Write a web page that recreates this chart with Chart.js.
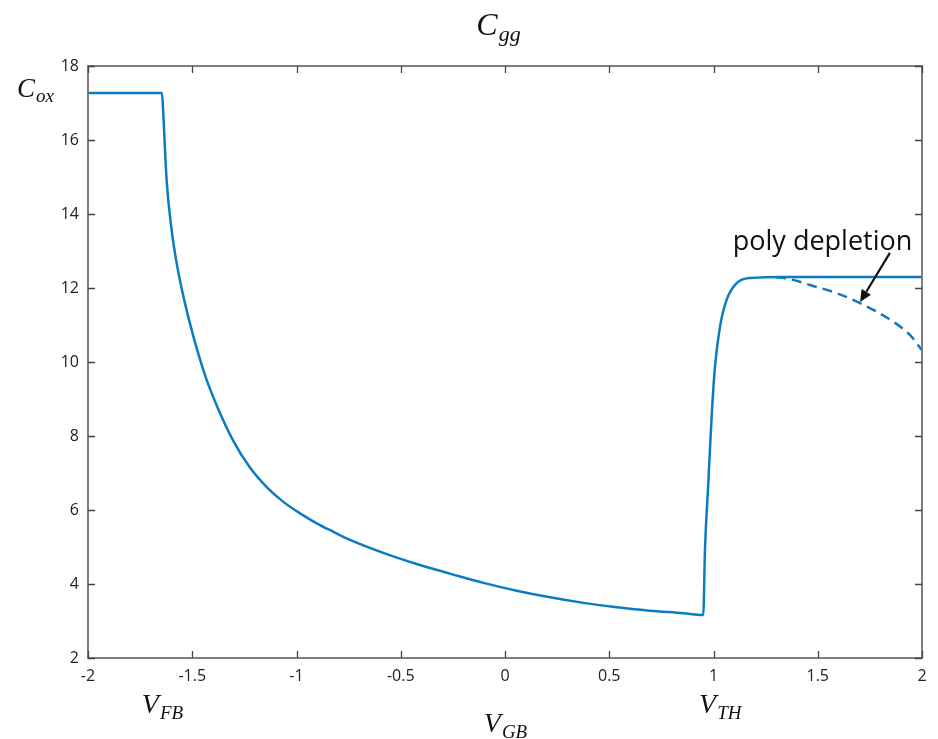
<!DOCTYPE html>
<html>
<head>
<meta charset="utf-8">
<script src="https://cdn.jsdelivr.net/npm/chart.js@4.4.1/dist/chart.umd.min.js"></script>
<style>
  body { margin: 0; background: #fff; }
  #wrap { width: 938px; height: 739px; position: relative; }
</style>
</head>
<body>
<div id="wrap"><canvas id="cgg"></canvas></div>
<script>
// solid Cgg curve (V_GB, C)
const vgb = [-2, -1.645, -1.639, -1.623, -1.599, -1.575, -1.542, -1.494, -1.436, -1.379, -1.305, -1.225,
  -1.143, -1.063, -0.983, -0.903, -0.823, -0.743, -0.584, -0.424, -0.264, -0.104, 0.056, 0.216, 0.376,
  0.536, 0.695, 0.855, 0.951, 0.959, 0.975, 0.991, 1.007, 1.031, 1.063, 1.111, 1.175, 1.351, 2.0];
const cgg = [17.27, 17.27, 16.72, 14.92, 13.57, 12.68, 11.76, 10.68, 9.60, 8.78, 7.89, 7.16,
  6.62, 6.22, 5.91, 5.64, 5.41, 5.19, 4.84, 4.54, 4.28, 4.03, 3.82, 3.64, 3.49,
  3.37, 3.28, 3.21, 3.16, 4.92, 6.72, 8.52, 9.87, 10.95, 11.68, 12.13, 12.27, 12.30, 12.30];

// dashed poly depletion branch
const vgbPoly = [1.30, 1.383, 1.463, 1.591, 1.703, 1.862, 1.942, 2.0];
const cggPoly = [12.30, 12.22, 12.08, 11.86, 11.59, 11.09, 10.73, 10.32];

const xTicks = [-2, -1.5, -1, -0.5, 0, 0.5, 1, 1.5, 2];
const yTicks = [2, 4, 6, 8, 10, 12, 14, 16, 18];

// annotation anchors in data units
const notePos = [1.523, 13.03];
const arrowFrom = [1.846, 12.95];
const arrowTo = [1.703, 11.62];
const vfb = -1.645;
const vth = 1.03;

const blue = '#0b7cc1';

function toXY(xs, ys) {
  return xs.map((x, i) => ({ x: x, y: ys[i] }));
}

// italic math label with subscript
function mathText(ctx, main, sub, x, y, size, subSize, align) {
  ctx.font = 'italic ' + size + 'px "Liberation Serif"';
  const w1 = ctx.measureText(main).width;
  ctx.font = 'italic ' + subSize + 'px "Liberation Serif"';
  const w2 = ctx.measureText(sub).width;
  let x0 = x;
  if (align === 'center') x0 = x - (w1 + w2) / 2;
  ctx.fillStyle = '#111';
  ctx.textBaseline = 'alphabetic';
  ctx.textAlign = 'left';
  ctx.font = 'italic ' + size + 'px "Liberation Serif"';
  ctx.fillText(main, x0, y);
  ctx.font = 'italic ' + subSize + 'px "Liberation Serif"';
  ctx.fillText(sub, x0 + w1 + 1, y + size * 0.2);
}

const decorations = {
  id: 'decorations',
  afterDraw(chart) {
    const ctx = chart.ctx;
    const a = chart.chartArea;
    const xs = chart.scales.x, ys = chart.scales.y;
    ctx.save();

    // box and inward ticks
    ctx.strokeStyle = '#707070';
    ctx.lineWidth = 1.8;
    ctx.strokeRect(a.left, a.top, a.right - a.left, a.bottom - a.top);
    ctx.lineWidth = 1.3;
    ctx.strokeStyle = '#444';
    ctx.beginPath();
    xTicks.forEach(v => {
      const px = Math.round(xs.getPixelForValue(v)) + 0.5;
      ctx.moveTo(px, a.bottom); ctx.lineTo(px, a.bottom - 7);
      ctx.moveTo(px, a.top); ctx.lineTo(px, a.top + 7);
    });
    yTicks.forEach(v => {
      const py = Math.round(ys.getPixelForValue(v)) + 0.5;
      ctx.moveTo(a.left, py); ctx.lineTo(a.left + 7, py);
      ctx.moveTo(a.right, py); ctx.lineTo(a.right - 7, py);
    });
    ctx.stroke();

    // math labels
    mathText(ctx, 'C', 'gg', (a.left + a.right) / 2 - 7, 35, 32, 22, 'center');
    mathText(ctx, 'C', 'ox', 17, 97, 27, 19, 'left');
    mathText(ctx, 'V', 'FB', xs.getPixelForValue(vfb), 713, 28, 19, 'center');
    mathText(ctx, 'V', 'TH', xs.getPixelForValue(vth), 713, 28, 19, 'center');
    mathText(ctx, 'V', 'GB', (a.left + a.right) / 2, 732, 28, 19, 'center');

    // poly depletion note
    ctx.fillStyle = '#111';
    ctx.font = '27px "Open Sans"';
    ctx.textAlign = 'center';
    ctx.textBaseline = 'alphabetic';
    ctx.fillText('poly depletion', xs.getPixelForValue(notePos[0]), ys.getPixelForValue(notePos[1]));

    const x1 = xs.getPixelForValue(arrowFrom[0]), y1 = ys.getPixelForValue(arrowFrom[1]);
    const x2 = xs.getPixelForValue(arrowTo[0]), y2 = ys.getPixelForValue(arrowTo[1]);
    const ang = Math.atan2(y2 - y1, x2 - x1);
    const hl = 12, hw = 5.5;
    ctx.strokeStyle = '#111';
    ctx.lineWidth = 2.2;
    ctx.beginPath();
    ctx.moveTo(x1, y1);
    ctx.lineTo(x2 - hl * Math.cos(ang), y2 - hl * Math.sin(ang));
    ctx.stroke();
    ctx.beginPath();
    ctx.moveTo(x2, y2);
    ctx.lineTo(x2 - hl * Math.cos(ang) + hw * Math.sin(ang), y2 - hl * Math.sin(ang) - hw * Math.cos(ang));
    ctx.lineTo(x2 - hl * Math.cos(ang) - hw * Math.sin(ang), y2 - hl * Math.sin(ang) + hw * Math.cos(ang));
    ctx.closePath();
    ctx.fillStyle = '#111';
    ctx.fill();

    ctx.restore();
  }
};

const tickFont = { family: '"Open Sans"', size: 16 };

new Chart(document.getElementById('cgg'), {
  type: 'line',
  data: {
    datasets: [
      {
        label: 'poly',
        data: toXY(vgbPoly, cggPoly),
        borderColor: blue,
        borderWidth: 2.5,
        borderDash: [10, 6],
        pointRadius: 0,
        cubicInterpolationMode: 'monotone',
        fill: false
      },
      {
        label: 'Cgg',
        data: toXY(vgb, cgg),
        borderColor: blue,
        borderWidth: 2.5,
        pointRadius: 0,
        cubicInterpolationMode: 'monotone',
        fill: false
      }
    ]
  },
  options: {
    responsive: true,
    maintainAspectRatio: false,
    animation: false,
    layout: { padding: { top: 66, right: 16, left: 0, bottom: 0 } },
    plugins: {
      legend: { display: false },
      tooltip: { enabled: false },
      title: { display: false }
    },
    scales: {
      x: {
        type: 'linear',
        min: -2,
        max: 2,
        afterFit: s => { s.height = 81; s.paddingRight = 0; },
        afterBuildTicks: s => { s.ticks = xTicks.map(v => ({ value: v })); },
        grid: { display: false, drawTicks: false },
        border: { display: false },
        ticks: { color: '#222', font: tickFont, padding: 9, maxRotation: 0, callback: v => String(v) }
      },
      y: {
        min: 2,
        max: 18,
        afterFit: s => { s.width = 88; },
        afterBuildTicks: s => { s.ticks = yTicks.map(v => ({ value: v })); },
        grid: { display: false, drawTicks: false },
        border: { display: false },
        ticks: { color: '#222', font: tickFont, padding: 9, callback: v => String(v) }
      }
    }
  },
  plugins: [decorations]
});
</script>
</body>
</html>
